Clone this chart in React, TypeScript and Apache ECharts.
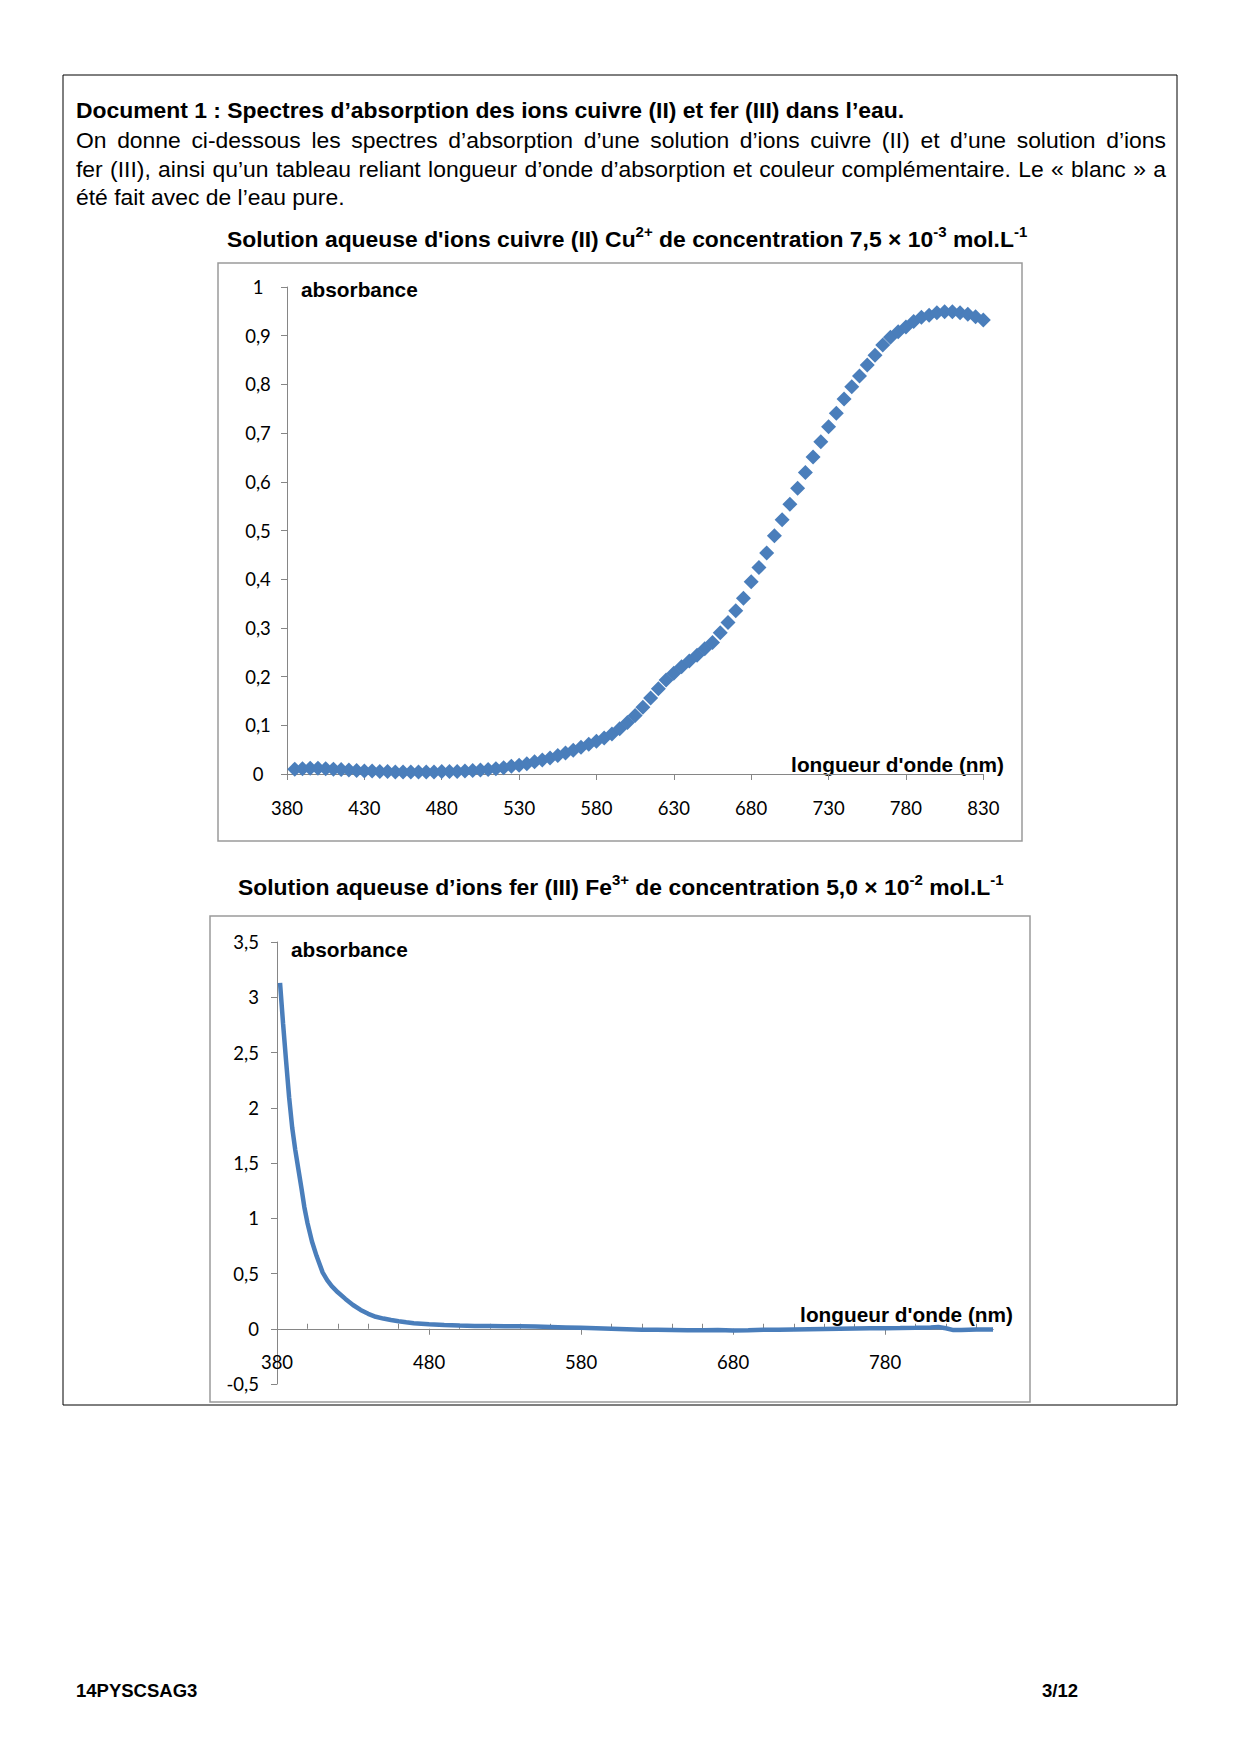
import React, { useEffect, useRef } from 'react';
import * as echarts from 'echarts';

// ---------- data ----------
const cuWavelengths = [
  385, 390, 395, 400, 405, 410, 415, 420, 425, 430,
  435, 440, 445, 450, 455, 460, 465, 470, 475, 480,
  485, 490, 495, 500, 505, 510, 515, 520, 525, 530,
  535, 540, 545, 550, 555, 560, 565, 570, 575, 580,
  585, 590, 595, 600, 605, 610, 615, 620, 625, 630,
  635, 640, 645, 650, 655, 660, 665, 670, 675, 680,
  685, 690, 695, 700, 705, 710, 715, 720, 725, 730,
  735, 740, 745, 750, 755, 760, 765, 770, 775, 780,
  785, 790, 795, 800, 805, 810, 815, 820, 825, 830,
];
const cuAbsorbance = [
  0.010, 0.011, 0.012, 0.012, 0.011, 0.010, 0.009, 0.008, 0.007, 0.006,
  0.006, 0.005, 0.005, 0.004, 0.004, 0.004, 0.004, 0.004, 0.004, 0.005,
  0.005, 0.005, 0.006, 0.007, 0.008, 0.009, 0.011, 0.013, 0.016, 0.018,
  0.021, 0.025, 0.029, 0.033, 0.038, 0.043, 0.049, 0.055, 0.061, 0.067,
  0.074, 0.082, 0.093, 0.106, 0.120, 0.137, 0.156, 0.175, 0.193, 0.207,
  0.220, 0.232, 0.244, 0.257, 0.270, 0.290, 0.311, 0.335, 0.361, 0.395,
  0.424, 0.454, 0.489, 0.522, 0.554, 0.587, 0.619, 0.651, 0.682, 0.713,
  0.741, 0.770, 0.795, 0.817, 0.840, 0.860, 0.881, 0.897, 0.908, 0.918,
  0.929, 0.938, 0.942, 0.947, 0.949, 0.949, 0.947, 0.944, 0.939, 0.932,
];

const feWavelengths = [
  382, 384, 386, 388, 390, 392, 394, 396, 398, 400,
  403, 406, 410, 413, 416, 420, 425, 430, 435, 440,
  445, 450, 455, 460, 465, 470, 480, 490, 500, 510,
  520, 530, 540, 550, 560, 570, 580, 590, 600, 610,
  620, 630, 640, 650, 660, 670, 680, 690, 700, 710,
  720, 730, 740, 750, 760, 770, 780, 790, 800, 810,
  815, 820, 825, 830, 840, 851,
];
const feAbsorbance = [
  3.13, 2.76, 2.42, 2.09, 1.82, 1.62, 1.45, 1.28, 1.10, 0.96,
  0.79, 0.66, 0.51, 0.44, 0.385, 0.33, 0.27, 0.215, 0.17, 0.135,
  0.108, 0.092, 0.079, 0.068, 0.058, 0.05, 0.04, 0.034, 0.029, 0.026,
  0.024, 0.022, 0.022, 0.02, 0.016, 0.012, 0.008, 0.004, 0.0, -0.004,
  -0.008, -0.01, -0.012, -0.014, -0.014, -0.012, -0.015, -0.014, -0.01, -0.008,
  -0.006, -0.004, -0.002, 0.0, 0.002, 0.004, 0.005, 0.006, 0.008, 0.012,
  0.016, 0.004, -0.012, -0.012, -0.006, -0.006,
];

const cuXRange = [380, 830];
const cuYRange = [0, 1];
const feXRange = [380, 851];
const feYRange = [-0.5, 3.5];
const feMajorTicks = [380, 480, 580, 680, 780];
const feMinorTicks = [
  400, 420, 440, 460, 500, 520, 540, 560, 600, 620, 640, 660,
  700, 720, 740, 760, 800, 820, 840,
];

// ---------- texts ----------
const headingText = 'Document 1 : Spectres d’absorption des ions cuivre (II) et fer (III) dans l’eau.';
const introLines = [
  'On donne ci-dessous les spectres d’absorption d’une solution d’ions cuivre (II) et d’une solution d’ions',
  'fer (III), ainsi qu’un tableau reliant longueur d’onde d’absorption et couleur complémentaire. Le « blanc » a',
  'été fait avec de l’eau pure.',
];
const cuTitle = "Solution aqueuse d'ions cuivre (II) Cu{sup|2+} de concentration 7,5 × 10{sup|-3} mol.L{sup|-1}";
const feTitle = 'Solution aqueuse d’ions fer (III) Fe{sup|3+} de concentration 5,0 × 10{sup|-2} mol.L{sup|-1}';
const yAxisName = 'absorbance';
const xAxisName = "longueur d'onde (nm)";
const footerLeft = '14PYSCSAG3';
const footerRight = '3/12';

// ---------- styles ----------
const SANS = 'Liberation Sans';
const TICK_FONT = 'Lato';
const AXIS_GRAY = '#868686';
const BOX_GRAY = '#9a9a9a';
const BLUE = '#4A7EBB';
const DOC_SIZE = 22.9;
const LABEL_SIZE = 20.8;

function commaFmt(v: number) {
  return String(Math.round(v * 10) / 10).replace('.', ',');
}

let measureCtx: CanvasRenderingContext2D | null = null;
function textWidth(s: string, font: string) {
  if (!measureCtx) measureCtx = document.createElement('canvas').getContext('2d');
  measureCtx!.font = font;
  return measureCtx!.measureText(s).width;
}

function txt(x: number, y: number, text: string, size: number, weight: string, align = 'left', rich?: any) {
  return {
    type: 'text',
    x,
    y,
    silent: true,
    style: {
      text,
      fill: '#000',
      fontFamily: SANS,
      fontSize: size,
      fontWeight: weight,
      align,
      textAlign: align,
      verticalAlign: 'middle',
      textVerticalAlign: 'middle',
      lineHeight: rich ? 30 : undefined,
      rich,
    },
  };
}

function justified(line: string, x0: number, x1: number, y: number, size: number) {
  const font = `${size}px "${SANS}"`;
  const words = line.split(' ');
  const widths = words.map((w) => textWidth(w, font));
  const total = widths.reduce((a, b) => a + b, 0);
  const gap = (x1 - x0 - total) / (words.length - 1);
  let x = x0;
  return words.map((w, i) => {
    const el = txt(x, y, w, size, 'normal');
    x += widths[i] + gap;
    return el;
  });
}

const supRich = {
  sup: {
    fontFamily: SANS,
    fontSize: 15,
    fontWeight: 'bold',
    lineHeight: 15,
    verticalAlign: 'top',
    fill: '#000',
  },
};

function buildOption() {
  const tickLabel = { color: '#000', fontFamily: TICK_FONT, fontSize: 18.5 };
  const feGridTop = 942;
  const feGridHeight = 442;
  // the x axis of the Fe chart crosses the y axis at 0
  const feZeroOffset = -feGridHeight * (0 - feYRange[0]) / (feYRange[1] - feYRange[0]);

  const graphics: any[] = [
    { type: 'rect', silent: true, shape: { x: 63, y: 75, width: 1114, height: 1330 }, style: { fill: 'none', stroke: '#000', lineWidth: 1 } },
    { type: 'rect', silent: true, shape: { x: 218, y: 263, width: 804, height: 578 }, style: { fill: 'none', stroke: BOX_GRAY, lineWidth: 1.5 } },
    { type: 'rect', silent: true, shape: { x: 210, y: 916, width: 820, height: 486 }, style: { fill: 'none', stroke: BOX_GRAY, lineWidth: 1.5 } },
    txt(76, 110, headingText, DOC_SIZE, 'bold'),
    ...justified(introLines[0], 76, 1166, 140, DOC_SIZE),
    ...justified(introLines[1], 76, 1166, 169, DOC_SIZE),
    txt(76, 197, introLines[2], DOC_SIZE, 'normal'),
    txt(227, 239, cuTitle, DOC_SIZE, 'bold', 'left', supRich),
    txt(238, 887, feTitle, DOC_SIZE, 'bold', 'left', supRich),
    txt(301, 289, yAxisName, LABEL_SIZE, 'bold'),
    txt(1004, 764, xAxisName, LABEL_SIZE, 'bold', 'right'),
    txt(291, 949, yAxisName, LABEL_SIZE, 'bold'),
    txt(1013, 1314, xAxisName, LABEL_SIZE, 'bold', 'right'),
    txt(76, 1690, footerLeft, 18.5, 'bold'),
    txt(1078, 1690, footerRight, 18.5, 'bold', 'right'),
  ];

  return {
    animation: false,
    backgroundColor: '#fff',
    grid: [
      { left: 287, top: 287, width: 696.3, height: 487 },
      { left: 277, top: feGridTop, width: 716, height: feGridHeight },
    ],
    xAxis: [
      {
        type: 'value', gridIndex: 0, min: cuXRange[0], max: cuXRange[1], interval: 50,
        axisLine: { show: true, onZero: false, lineStyle: { color: AXIS_GRAY, width: 1 } },
        axisTick: { show: true, inside: false, length: 6, lineStyle: { color: AXIS_GRAY } },
        axisLabel: { ...tickLabel, margin: 24 },
        splitLine: { show: false },
      },
      {
        type: 'value', gridIndex: 1, min: feXRange[0], max: feXRange[1], position: 'bottom', offset: feZeroOffset,
        axisLine: { show: true, onZero: false, lineStyle: { color: AXIS_GRAY, width: 1 } },
        axisTick: { show: true, inside: false, length: 6, customValues: feMajorTicks, lineStyle: { color: AXIS_GRAY } },
        axisLabel: { ...tickLabel, margin: 24, customValues: feMajorTicks },
        splitLine: { show: false },
      },
      {
        type: 'value', gridIndex: 1, min: feXRange[0], max: feXRange[1], position: 'bottom', offset: feZeroOffset,
        axisLine: { show: true, onZero: false, lineStyle: { color: AXIS_GRAY, width: 1 } },
        axisTick: { show: true, inside: true, length: 5, customValues: feMinorTicks, lineStyle: { color: AXIS_GRAY } },
        axisLabel: { show: false },
        splitLine: { show: false },
      },
    ],
    yAxis: [
      {
        type: 'value', gridIndex: 0, min: cuYRange[0], max: cuYRange[1], interval: 0.1,
        axisLine: { show: true, onZero: false, lineStyle: { color: AXIS_GRAY, width: 1 } },
        axisTick: { show: true, inside: false, length: 6, lineStyle: { color: AXIS_GRAY } },
        axisLabel: { ...tickLabel, margin: 29, align: 'center', formatter: commaFmt },
        splitLine: { show: false },
      },
      {
        type: 'value', gridIndex: 1, min: feYRange[0], max: feYRange[1], interval: 0.5,
        axisLine: { show: true, onZero: false, lineStyle: { color: AXIS_GRAY, width: 1 } },
        axisTick: { show: true, inside: false, length: 6, lineStyle: { color: AXIS_GRAY } },
        axisLabel: { ...tickLabel, margin: 18, formatter: commaFmt },
        splitLine: { show: false },
      },
    ],
    series: [
      {
        type: 'scatter', name: 'Cu2+', xAxisIndex: 0, yAxisIndex: 0,
        symbol: 'diamond', symbolSize: 15,
        itemStyle: { color: BLUE, opacity: 1 },
        data: cuWavelengths.map((w, i) => [w, cuAbsorbance[i]]),
      },
      {
        type: 'line', name: 'Fe3+', xAxisIndex: 1, yAxisIndex: 1,
        symbol: 'none', showSymbol: false,
        lineStyle: { color: BLUE, width: 4.5 },
        itemStyle: { color: BLUE },
        data: feWavelengths.map((w, i) => [w, feAbsorbance[i]]),
      },
    ],
    graphic: graphics,
  };
}

export default function App() {
  const ref = useRef<HTMLDivElement>(null);
  useEffect(() => {
    const chart = echarts.init(ref.current!, null, { renderer: 'svg', width: 1240, height: 1754 });
    chart.setOption(buildOption() as any);
    return () => chart.dispose();
  }, []);
  return (
    <div
      ref={ref}
      style={{ position: 'absolute', left: 0, top: 0, width: 1240, height: 1754, background: '#fff' }}
    />
  );
}
